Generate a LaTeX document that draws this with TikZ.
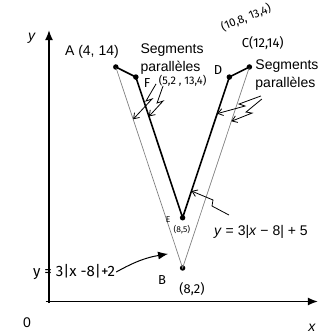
\documentclass[tikz,border=0pt]{standalone}
\usepackage{fontspec}
\setmainfont{Liberation Sans}
\newfontfamily\hand{Fira Sans}
\usetikzlibrary{calc,arrows.meta}
\begin{document}
\begin{tikzpicture}[x=16.7pt, y=16.75pt, >={Latex[length=10pt,width=8pt]},
  thinline/.style={gray, line width=0.7pt},
  thickline/.style={black, line width=1.6pt},
  dot/.style={circle, fill, inner sep=0pt, minimum size=5.5pt},
  print/.style={font=\fontsize{14}{18}\selectfont, inner sep=1pt},
  hw/.style={font=\hand\fontsize{13}{15}\selectfont, inner sep=1pt},
  hwsmall/.style={font=\hand\fontsize{8.5}{10}\selectfont, inner sep=0pt},
  bolt/.style={-{Straight Barb[length=5pt,width=7pt]}, line width=0.8pt}]
\useasboundingbox (-2.934,-2.06) rectangle (16.707,18.0);

% axes
\coordinate (O) at (0,0);
\coordinate (xend) at (16.1,0);
\coordinate (yend) at (0,16.2);
\draw[->, line width=1.5pt] (-0.2,0) -- (xend);
\draw[->, line width=1.5pt] (0,-0.1) -- (yend);
\node[print] (ylbl) at (-1.02,15.73) {\textit{y}};
\node[print] (zero) at (-1.32,-1.28) {0};
\node[print] (xlbl) at (15.75,-1.58) {\textit{x}};

% points
\node[dot] (A) at (4,14) {};
\node[dot] (B) at (8,2) {};
\node[dot] (C) at (12,14) {};
\node[dot] (F) at (5.2,13.4) {};
\node[dot] (E) at (8,5) {};
\node[dot] (D) at (10.8,13.4) {};

\draw[thinline] (A.center) -- (B.center) -- (C.center);
\draw[thickline] (A.center) -- (F.center) -- (E.center) -- (D.center) -- (C.center);

% printed labels
\node[print] (lblA) at (2.57,14.9) {A (4, 14)};
\node[print, align=left] (seg1) at (7.37,14.45) {Segments\\parallèles};
\node[print, align=left] (seg2) at (14.25,13.52) {Segments\\parallèles};
\node[print] (eq1) at (12.69,4.15) {\textit{y} = 3|\textit{x} − 8| + 5};

% handwritten labels
\node[hw] (Flbl) at (5.87,13.05) {F};
\node[hw, font=\hand\fontsize{11}{13}\selectfont] (Fco) at (8.0,13.2) {(5,2 , 13,4)};
\node[hw] (Dlbl) at (10.12,13.82) {D};
\node[hw] (Clbl) at (12.8,15.4) {C(12,14)};
\node[hw, font=\hand\fontsize{11.5}{13}\selectfont, rotate=22] (Dco) at (11.8,16.95) {(10,8, 13,4)};
\node[hwsmall] (Elbl) at (7.13,4.87) {E};
\node[hwsmall] (Eco) at (7.96,4.3) {(8,5)};
\node[hw] (Blbl) at (6.77,1.28) {B};
\node[hw] (Bco) at (8.56,0.75) {(8,2)};
\node[hw, font=\hand\fontsize{15}{17}\selectfont] (eq2) at (1.5,1.76) {y = 3|x -8|+2};

% arrows
\coordinate (p) at (7.13,2.84);
\draw[->, line width=1pt] (eq2.east) to[bend left=10] (p);

\coordinate (s1) at (6.41,12.99);
\coordinate (t1) at ($(A)!0.26!(B)$);
\draw[bolt] (s1) -- (5.81,11.97) -- (6.17,12.09) -- (t1);
\coordinate (s2) at (6.83,12.87);
\coordinate (t2) at ($(F)!0.28!(E)$);
\draw[bolt] (s2) -- (6.47,11.85) -- (6.83,11.97) -- (t2);
\coordinate (s3) at (12.69,12.27);
\coordinate (t3) at ($(D)!0.26!(E)$);
\draw[bolt] (s3) -- (11.38,11.79) -- (11.74,11.67) -- (t3);
\coordinate (s4) at (12.75,12.09);
\coordinate (t4) at ($(C)!0.27!(B)$);
\draw[bolt] (s4) -- (11.80,11.31) -- (12.16,11.25) -- (t4);
\coordinate (s5) at (10.78,5.16);
\coordinate (t5) at ($(E)!0.19!(D)$);
\draw[bolt] (s5) -- (9.76,5.70) -- (9.82,6.06) -- (t5);
\end{tikzpicture}
\end{document}
